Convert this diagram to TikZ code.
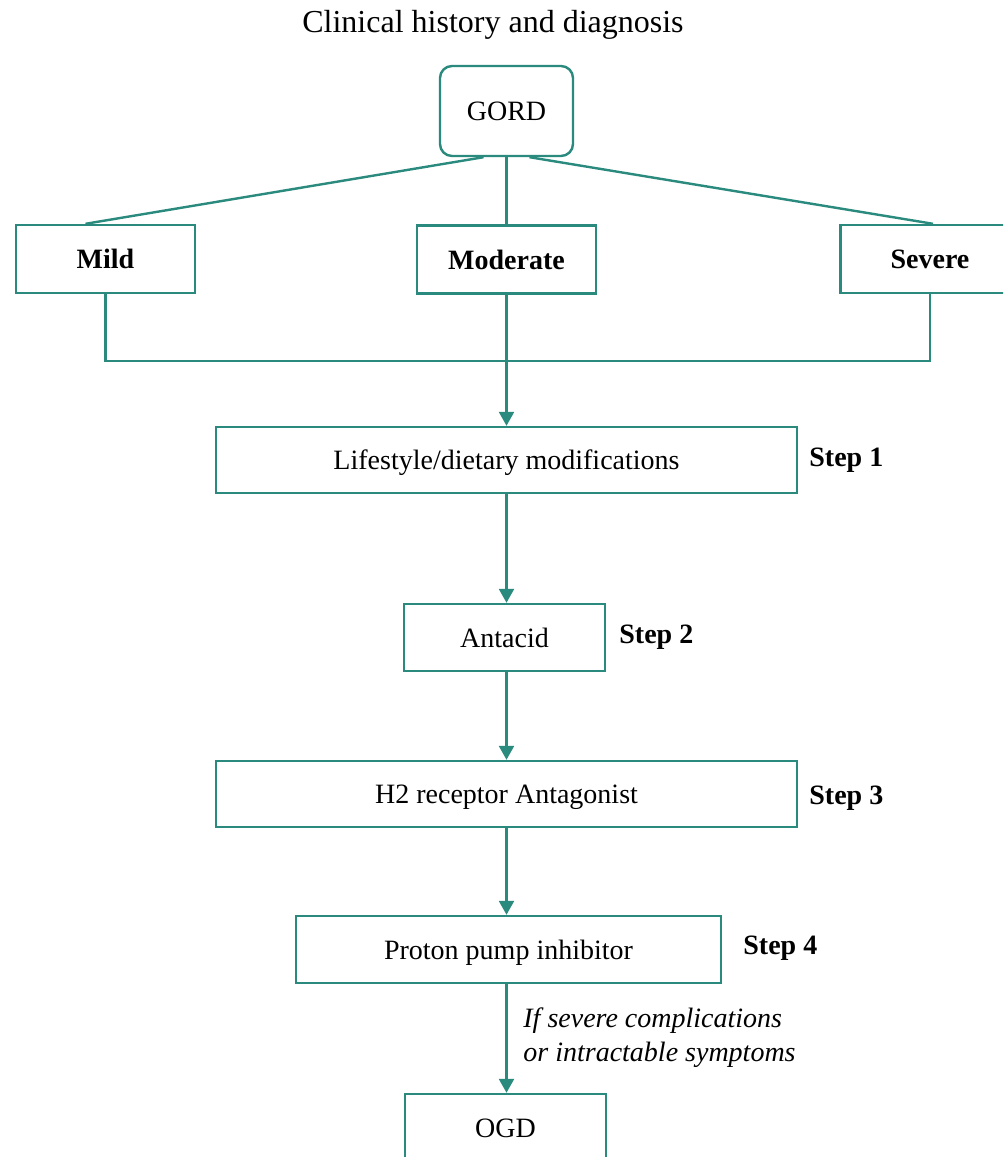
\documentclass[tikz,border=0pt]{standalone}
\usepackage{fontspec}
\setmainfont{Liberation Serif}
\usetikzlibrary{arrows.meta,calc}
\definecolor{teal1}{HTML}{2A8A7E}
\tikzset{
  box/.style={draw=teal1, line width=1.2pt, fill=white, inner sep=0pt, align=center, text height=9.5pt, text depth=0pt},
  link/.style={draw=teal1, line width=1.2pt},
  arr/.style={link, -{Triangle[width=7.5pt,length=7pt]}},
  steplabel/.style={font=\bfseries, anchor=west, inner sep=0pt, text height=9.5pt, text depth=0pt},
}
\begin{document}
\begin{tikzpicture}[x=0.5pt,y=-0.5pt]
\fontsize{14}{17}\selectfont
\useasboundingbox (0,0) rectangle (1003,1157);
\clip (0,0) rectangle (1003,1157);
\node[inner sep=0pt, font=\fontsize{16}{19}\selectfont, text height=11pt, text depth=0pt] (title) at (493,21) {Clinical history and diagnosis};
\node[box, rounded corners=6pt, minimum width=66.5pt, minimum height=45pt] (gord) at (506.5,111) {GORD};
\node[box, minimum width=89.5pt, minimum height=34pt] (mild) at (105.5,259) {\textbf{Mild}};
\node[box, minimum width=89.5pt, minimum height=34pt] (moderate) at (506.5,259.5) {\textbf{Moderate}};
\node[box, minimum width=89.5pt, minimum height=34pt] (severe) at (930,259) {\textbf{Severe}};
\node[box, minimum width=290.5pt, minimum height=33pt] (s1) at (506.5,460) {Lifestyle/dietary modifications};
\node[box, minimum width=100.5pt, minimum height=33.5pt] (s2) at (504.5,637.5) {Antacid};
\node[box, minimum width=290.5pt, minimum height=33pt] (s3) at (506.5,794) {H2 receptor Antagonist};
\node[box, minimum width=212.5pt, minimum height=33.5pt] (s4) at (508.5,949.5) {Proton pump inhibitor};
\node[box, minimum width=100.5pt, minimum height=34pt] (ogd) at (505.5,1128) {OGD};
\node[steplabel] (l1) at (809,457) {Step 1};
\node[steplabel] (l2) at (619,634) {Step 2};
\node[steplabel] (l3) at (809,795) {Step 3};
\node[steplabel] (l4) at (743,945) {Step 4};
\node[font=\itshape, align=left, anchor=north west, inner sep=0pt] (cond) at (523,1007) {If severe complications\\or intractable symptoms};
\coordinate (gl) at ($(gord.south)+(-23,0)$);
\coordinate (gr) at ($(gord.south)+(23,0)$);
\coordinate (ml) at ($(mild.north)+(-20,0)$);
\coordinate (sr) at ($(severe.north)+(3,0)$);
\draw[link] (gl) -- (ml);
\draw[link] (gr) -- (sr);
\draw[link] (gord.south) -- (moderate.north);
\draw[link] (mild.south) -- ++(0,67) -| (severe.south);
\draw[arr] (moderate.south) -- (s1.north);
\draw[arr] (s1.south) -- (s1.south |- s2.north);
\draw[arr] (s2.south -| s1.south) -- (s3.north);
\draw[arr] (s3.south) -- (s3.south |- s4.north);
\draw[arr] (s4.south -| s3.south) -- (s3.south |- ogd.north);
\end{tikzpicture}
\end{document}
